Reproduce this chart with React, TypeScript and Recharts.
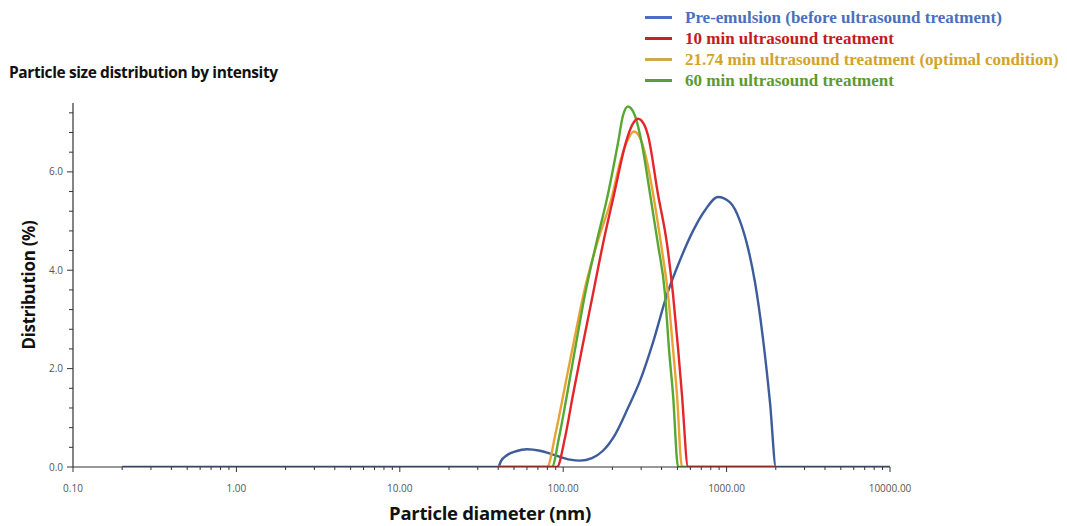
import { LineChart, Line, XAxis, YAxis } from "recharts";

// particle diameter (nm) / distribution (%)
const PRE_D = [0.2, 40, 41.6, 45.3, 51.4, 60, 72.1, 89.1, 110, 127, 150, 175, 207, 249, 295, 355, 432, 518, 623, 738, 886, 1049, 1208, 1352, 1493, 1671, 1845, 2005, 10000];
const PRE_V = [0, 0, 0.12, 0.24, 0.32, 0.36, 0.33, 0.24, 0.15, 0.13, 0.18, 0.33, 0.65, 1.2, 1.75, 2.54, 3.51, 4.2, 4.8, 5.22, 5.49, 5.38, 5.0, 4.45, 3.75, 2.6, 1.3, 0, 0];

const MIN10_D = [40, 91.6, 102.6, 114.8, 132, 152, 175, 205, 242, 264, 287, 312, 330, 380, 432, 470, 505, 533, 581, 2005];
const MIN10_V = [0, 0, 0.6, 1.47, 2.5, 3.51, 4.53, 5.55, 6.6, 6.95, 7.08, 6.97, 6.75, 5.55, 4.53, 3.51, 2.4, 1.47, 0, 0];

const MIN21_D = [40, 79.6, 90, 102, 117, 135, 163, 199, 223, 246, 271, 299, 326, 355, 397, 438, 470, 497, 533, 2005];
const MIN21_V = [0, 0, 0.7, 1.6, 2.6, 3.6, 4.6, 5.5, 6.2, 6.62, 6.82, 6.65, 6.2, 5.55, 4.53, 3.51, 2.4, 1.47, 0, 0];

const MIN60_D = [40, 85.3, 94.3, 105.5, 119.7, 136, 159, 188, 216, 232, 249, 275, 303, 340, 380, 420, 444, 470, 505, 2005];
const MIN60_V = [0, 0, 0.6, 1.47, 2.5, 3.51, 4.53, 5.55, 6.57, 7.14, 7.33, 7.14, 6.57, 5.55, 4.53, 3.51, 2.4, 1.47, 0, 0];

const X_MAJOR = [0.1, 1, 10, 100, 1000, 10000];
const X_MINOR_STEPS = [2, 3, 4, 5, 6, 7, 8, 9];
const Y_MAJOR = [0, 2, 4, 6];
const Y_TOP = 7.4;

const SERIES = [
  { name: "Pre-emulsion (before ultrasound treatment)", d: PRE_D, v: PRE_V, line: "#3d5c9c", legend: "#4a70bf", text: "#4a6fbf" },
  { name: "21.74 min ultrasound treatment (optimal condition)", d: MIN21_D, v: MIN21_V, line: "#eba235", legend: "#cfa94d", text: "#d1a32a" },
  { name: "60 min ultrasound treatment", d: MIN60_D, v: MIN60_V, line: "#57a832", legend: "#5f9a3c", text: "#5c9a2e" },
  { name: "10 min ultrasound treatment", d: MIN10_D, v: MIN10_V, line: "#e3262b", legend: "#c2242a", text: "#c41a20" },
];
const LEGEND_ORDER = [0, 3, 1, 2];

const xTicks = X_MAJOR.flatMap((m, i) =>
  i < X_MAJOR.length - 1 ? [m, ...X_MINOR_STEPS.map((s) => +(m * s).toPrecision(3))] : [m]
);
const yTicks = Array.from({ length: 19 }, (_, i) => +(i * 0.4).toFixed(1));

const tickFont = { fontFamily: "'Open Sans', sans-serif", fontSize: 10, fill: "#555" };

function XTick({ x, y, payload }: any) {
  const major = X_MAJOR.includes(payload.value);
  return (
    <g>
      <line x1={x} x2={x} y1={y} y2={y + (major ? 5 : 3)} stroke="#333" strokeWidth={1} />
      {major && (
        <text x={x} y={y + 25} textAnchor="middle" {...tickFont}>
          {payload.value.toFixed(2)}
        </text>
      )}
    </g>
  );
}

function YTick({ x, y, payload }: any) {
  const major = Y_MAJOR.includes(payload.value);
  return (
    <g>
      <line x1={x - (major ? 6 : 4)} x2={x} y1={y} y2={y} stroke="#333" strokeWidth={1} />
      {major && (
        <text x={x - 10} y={y + 3.5} textAnchor="end" {...tickFont}>
          {payload.value.toFixed(1)}
        </text>
      )}
    </g>
  );
}

export default function App() {
  return (
    <div style={{ position: "absolute", left: 0, top: 0, width: 1067, height: 526, background: "#fff" }}>
      <LineChart width={1067} height={526} margin={{ top: 103, right: 177, bottom: 29, left: 33 }}>
        <XAxis
          type="number"
          dataKey="d"
          scale="log"
          domain={[0.1, 10000]}
          ticks={xTicks}
          interval={0}
          tickSize={0}
          tickMargin={0}
          height={30}
          tick={<XTick />}
          axisLine={{ stroke: "#333", strokeWidth: 1.2 }}
          allowDataOverflow
        />
        <YAxis
          type="number"
          domain={[0, Y_TOP]}
          ticks={yTicks}
          interval={0}
          tickSize={0}
          tickMargin={0}
          width={40}
          tick={<YTick />}
          axisLine={{ stroke: "#333", strokeWidth: 1.2 }}
          allowDataOverflow
        />
        {SERIES.map((s) => (
          <Line
            key={s.name}
            data={s.d.map((d, i) => ({ d, v: s.v[i] }))}
            dataKey="v"
            type="monotone"
            stroke={s.line}
            strokeWidth={2.4}
            dot={false}
            activeDot={false}
            isAnimationActive={false}
          />
        ))}
      </LineChart>

      <div
        style={{
          position: "absolute",
          left: 9,
          top: 61,
          fontFamily: "'Open Sans', sans-serif",
          fontWeight: 700,
          fontSize: 15.5,
          letterSpacing: -0.4,
          color: "#111",
          whiteSpace: "nowrap",
        }}
      >
        Particle size distribution by intensity
      </div>

      <div
        style={{
          position: "absolute",
          left: 28,
          top: 285,
          transform: "translate(-50%, -50%) rotate(-90deg)",
          fontFamily: "'Open Sans', sans-serif",
          fontWeight: 700,
          fontSize: 17,
          letterSpacing: -0.3,
          color: "#111",
          whiteSpace: "nowrap",
        }}
      >
        Distribution (%)
      </div>

      <div
        style={{
          position: "absolute",
          left: 490,
          top: 512,
          transform: "translate(-50%, -50%)",
          fontFamily: "'Open Sans', sans-serif",
          fontWeight: 700,
          fontSize: 18.5,
          letterSpacing: -0.3,
          color: "#111",
          whiteSpace: "nowrap",
        }}
      >
        Particle diameter (nm)
      </div>

      <div style={{ position: "absolute", left: 645, top: 7 }}>
        {LEGEND_ORDER.map((idx) => {
          const s = SERIES[idx];
          return (
            <div key={s.name} style={{ display: "flex", alignItems: "center", height: 21 }}>
              <div style={{ width: 27, height: 2.5, background: s.legend, marginRight: 13 }} />
              <span
                style={{
                  fontFamily: "'Liberation Serif', 'Times New Roman', serif",
                  fontWeight: 700,
                  fontSize: 17,
                  lineHeight: "21px",
                  color: s.text,
                  whiteSpace: "nowrap",
                }}
              >
                {s.name}
              </span>
            </div>
          );
        })}
      </div>
    </div>
  );
}
